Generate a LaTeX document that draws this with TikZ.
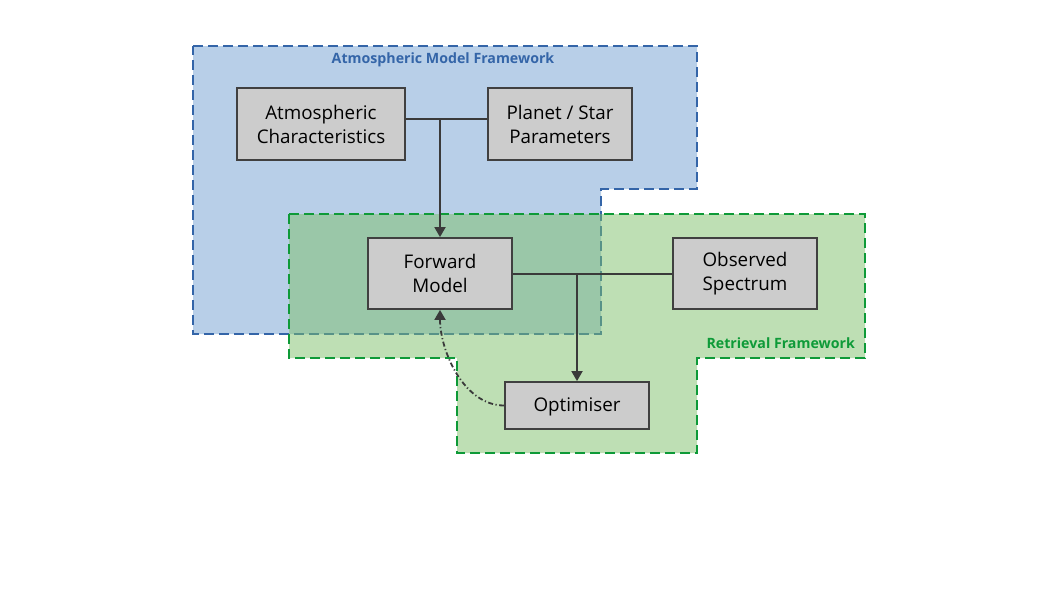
\documentclass[tikz,border=0pt]{standalone}
\usepackage{fontspec}
\setmainfont{Open Sans}
\usetikzlibrary{arrows.meta}
\definecolor{bluefill}{HTML}{B8CFE8}
\definecolor{blueline}{HTML}{3465A8}
\definecolor{greenfillc}{HTML}{7DC06A}
\definecolor{greenline}{HTML}{0E9A38}
\definecolor{boxfill}{HTML}{CCCCCC}
\definecolor{boxline}{HTML}{404040}
\definecolor{conn}{HTML}{3A3A3A}
\tikzset{
  region/.style={line width=2.8pt, dash pattern=on 10pt off 5pt},
  blk/.style={draw=boxline, fill=boxfill, line width=1.8pt, align=center, inner sep=0pt,
    font=\fontsize{18.8}{24}\selectfont, text=black, minimum height=71pt},
  link/.style={draw=conn, line width=1.8pt},
  arr/.style={link, -{Triangle[width=11pt,length=10pt]}},
  regionlabel/.style={font=\bfseries\fontsize{14.2}{16}\selectfont, inner sep=0pt}
}
\begin{document}
\begin{tikzpicture}[x=1pt,y=-1pt]
\useasboundingbox (0,0) rectangle (1058,595);
% blue region
\path[fill=bluefill] (193,46) -- (697,46) -- (697,189) -- (601,189) -- (601,334) -- (193,334) -- cycle;
\draw[region, draw=blueline] (193,46) -- (697,46) -- (697,189) -- (601,189) -- (601,334) -- (193,334) -- cycle;
% green region
\path[fill=greenfillc, fill opacity=0.5] (289,214) -- (865,214) -- (865,358) -- (697,358) -- (697,453) -- (457,453) -- (457,358) -- (289,358) -- cycle;
\draw[region, draw=greenline] (289,214) -- (865,214) -- (865,358) -- (697,358) -- (697,453) -- (457,453) -- (457,358) -- (289,358) -- cycle;
% labels
\node[regionlabel, text=blueline] (lblA) at (443,60) {Atmospheric Model Framework};
\node[regionlabel, text=greenline, anchor=east] (lblR) at (855,343) {Retrieval Framework};
% boxes
\node[blk, minimum width=168pt, minimum height=72pt] (ac) at (321,124) {Atmospheric\\Characteristics};
\node[blk, minimum width=144pt, minimum height=72pt] (pp) at (560,124) {Planet / Star\\Parameters};
\node[blk, minimum width=144pt] (fm) at (440,273.5) {Forward\\Model};
\node[blk, minimum width=144pt] (os) at (745,273.5) {Observed\\Spectrum};
\node[blk, minimum width=144pt, minimum height=47pt, text depth=2pt] (opt) at (577,405.5) {Optimiser};
% connectors
\draw[link] ([yshift=5pt]ac.east) -- ([yshift=5pt]pp.west);
\coordinate (j1) at (440,119);
\draw[arr] (j1) -- (fm.north);
\draw[link] ([yshift=-0.5pt]fm.east) -- ([yshift=-0.5pt]os.west);
\coordinate (j2) at (577,274);
\draw[arr] (j2) -- (opt.north);
\draw[link, dash pattern=on 5pt off 2.5pt on 1.2pt off 2.5pt, -{Triangle[width=11pt,length=10pt]}] (opt.west) to[out=180, in=-90, looseness=0.9] (fm.south);
\end{tikzpicture}
\end{document}
